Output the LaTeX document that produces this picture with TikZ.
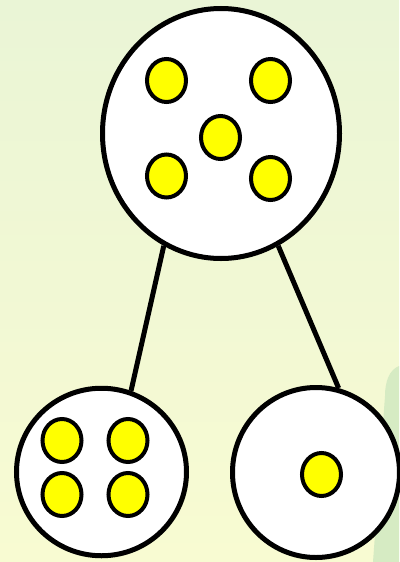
\documentclass[tikz,border=0pt]{standalone}
\usetikzlibrary{shapes.geometric}
\definecolor{bgtop}{HTML}{EAF5D6}
\definecolor{bgbot}{HTML}{F8FBD2}
\definecolor{blob}{HTML}{D6EBC3}
\definecolor{dotyellow}{HTML}{FFFF00}
\tikzset{
  cell/.style={ellipse, draw=black, fill=white, line width=5pt, inner sep=0pt},
  dot/.style={ellipse, draw=black, fill=dotyellow, line width=4pt, inner sep=0pt,
              minimum width=39pt, minimum height=43pt},
  link/.style={draw=black, line width=5pt}
}
\begin{document}
\begin{tikzpicture}[x=1pt,y=-1pt]
\useasboundingbox (0,0) rectangle (399,562);
\shade[top color=bgtop, bottom color=bgbot] (0,0) rectangle (399,562);
\fill[blob] (399,366) .. controls (389,370) and (385,382) .. (385,396) -- (373,562) -- (399,562) -- cycle;
% cells
\node[cell, minimum width=237pt, minimum height=250pt] (top) at (221,133.5) {};
\node[cell, minimum width=170pt, minimum height=167.5pt] (bl) at (101.5,472) {};
\node[cell, minimum width=167pt, minimum height=170pt] (br) at (316,472.5) {};
% connectors
\draw[link] (top.243) -- (bl.70);
\draw[link] (top.297) -- (br.75);
% dots in top cell
\node[dot] (t1) at (166.5,80.5) {};
\node[dot] (t2) at (270.5,80.5) {};
\node[dot] (t3) at (220.5,137.5) {};
\node[dot] (t4) at (166.5,176) {};
\node[dot] (t5) at (270.5,178.5) {};
% dots in bottom-left cell
\node[dot] (b1) at (62,440.5) {};
\node[dot] (b2) at (128,440.5) {};
\node[dot] (b3) at (62,494.5) {};
\node[dot] (b4) at (128,494.5) {};
% dot in bottom-right cell
\node[dot] (r1) at (321.5,474.5) {};
\end{tikzpicture}
\end{document}
